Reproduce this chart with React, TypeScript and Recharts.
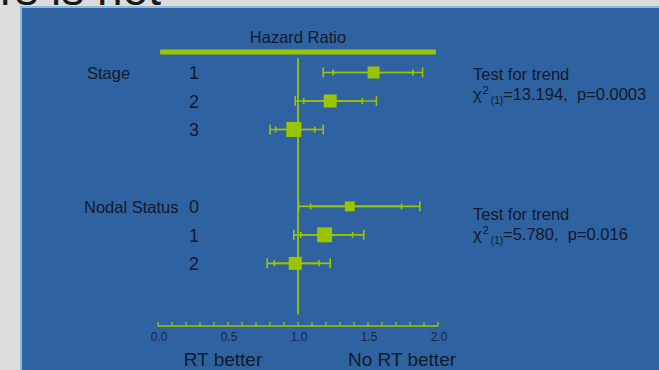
import React from "react";
import { ScatterChart, Scatter, XAxis, YAxis, ErrorBar, ReferenceLine } from "recharts";

// ---- data ----
const groupNames = ["Stage", "Nodal Status"];
const levelLabels = ["1", "2", "3", "0", "1", "2"];
const groupIndex = [0, 0, 0, 1, 1, 1];
const hazardRatio = [1.54, 1.23, 0.97, 1.37, 1.19, 0.98];
const innerLow = [1.25, 1.04, 0.84, 1.09, 1.02, 0.83];
const innerHigh = [1.82, 1.46, 1.12, 1.74, 1.39, 1.15];
const outerLow = [1.18, 0.98, 0.8, 1.005, 0.97, 0.78];
const outerHigh = [1.89, 1.56, 1.18, 1.87, 1.47, 1.23];
const boxWeights = [12, 13, 15, 10, 15, 13];
const xTicks = [0, 0.1, 0.2, 0.3, 0.4, 0.5, 0.6, 0.7, 0.8, 0.9, 1, 1.1, 1.2, 1.3, 1.4, 1.5, 1.6, 1.7, 1.8, 1.9, 2];
const xTickLabels = ["0.0", "0.5", "1.0", "1.5", "2.0"];
const xTickLabelValues = [0, 0.5, 1, 1.5, 2];
const trendTests = [
  { title: "Test for trend", stat: "=13.194,  p=0.0003" },
  { title: "Test for trend", stat: "=5.780,  p=0.016" },
];

// ---- layout ----
const rowPos = [1, 2, 3, 5.7, 6.7, 7.7];
const groupLabelX = [87, 84];
const GREEN = "#9bc400";
const TEXT = "#141a2c";
const FONT = "'Liberation Sans', Arial, sans-serif";

const rows = hazardRatio.map((v, i) => ({
  x: v,
  y: rowPos[i],
  inner: [v - innerLow[i], innerHigh[i] - v],
  outer: [v - outerLow[i], outerHigh[i] - v],
  w: boxWeights[i],
}));

const Box = (props: any) => {
  const { cx, cy, payload } = props;
  if (cx == null || cy == null) return null;
  const s = payload.w;
  return <rect x={cx - s / 2} y={cy - s / 2} width={s} height={s} fill={GREEN} />;
};

const XTick = (props: any) => {
  const { x, y, payload } = props;
  const li = xTickLabelValues.findIndex((v) => Math.abs(v - payload.value) < 1e-6);
  return (
    <g>
      <line x1={x} x2={x} y1={y} y2={y - 4} stroke={GREEN} strokeWidth={1.3} />
      {li >= 0 && (
        <text x={x + 1} y={y + 15} textAnchor="middle" fontSize={12} fill="#1c2740" fontFamily={FONT}>
          {xTickLabels[li]}
        </text>
      )}
    </g>
  );
};

const YTick = (props: any) => {
  const { y, payload } = props;
  const i = rowPos.findIndex((v) => Math.abs(v - payload.value) < 1e-6);
  if (i < 0) return null;
  const g = groupIndex[i];
  const first = groupIndex.indexOf(g) === i;
  return (
    <g fontFamily={FONT} fill={TEXT}>
      {first && (
        <text x={groupLabelX[g]} y={y + 7} fontSize={16.5} textAnchor="start">
          {groupNames[g]}
        </text>
      )}
      <text x={194} y={y + 7} fontSize={18} textAnchor="middle">
        {levelLabels[i]}
      </text>
    </g>
  );
};

const trendY = [80, 220];

export default function App() {
  return (
    <div style={{ position: "fixed", left: 0, top: 0, width: 659, height: 370, background: "#dcdcdc", overflow: "hidden" }}>
      <div
        style={{
          position: "absolute",
          left: 20,
          top: 6,
          width: 700,
          height: 400,
          background: "#2e62a0",
          borderLeft: "2px solid #8fb9dc",
          borderTop: "2px solid #8fb9dc",
        }}
      />
      <div style={{ position: "absolute", left: 0, top: 0 }}>
        <ScatterChart width={659} height={370} margin={{ top: 44, right: 221, bottom: 0, left: 0 }}>
          <XAxis
            type="number"
            dataKey="x"
            domain={[0, 2]}
            ticks={xTicks}
            interval={0}
            height={44}
            tickSize={0}
            tickMargin={0}
            tickLine={false}
            axisLine={{ stroke: GREEN, strokeWidth: 1.5 }}
            tick={<XTick />}
            allowDataOverflow
          />
          <YAxis
            type="number"
            dataKey="y"
            domain={[0, 9.9]}
            reversed
            ticks={rowPos}
            interval={0}
            width={158}
            axisLine={false}
            tickLine={false}
            tick={<YTick />}
            allowDataOverflow
          />
          <ReferenceLine
            segment={[
              { x: 1, y: 0.5 },
              { x: 1, y: 9.5 },
            ]}
            stroke={GREEN}
            strokeWidth={1.8}
          />
          <ReferenceLine
            segment={[
              { x: 0.015, y: 0.28 },
              { x: 1.985, y: 0.28 },
            ]}
            stroke={GREEN}
            strokeWidth={5}
          />
          <Scatter data={rows} shape={<Box />} isAnimationActive={false}>
            <ErrorBar dataKey="outer" direction="x" width={5} stroke={GREEN} strokeWidth={1.6} />
            <ErrorBar dataKey="inner" direction="x" width={3} stroke={GREEN} strokeWidth={1.6} />
          </Scatter>
        </ScatterChart>
      </div>
      <svg width={659} height={370} style={{ position: "absolute", left: 0, top: 0, pointerEvents: "none" }} fontFamily={FONT}>
        <text x={161} y={5} fontSize={46} textAnchor="end" fill="#1a1a1a">rs is not</text>
        <text x={298} y={43} fontSize={16.5} textAnchor="middle" fill={TEXT}>Hazard Ratio</text>
        {trendTests.map((t, i) => (
          <g key={i} fill={TEXT}>
            <text x={473} y={trendY[i]} fontSize={16.5}>{t.title}</text>
            <text x={473} y={trendY[i] + 20} fontSize={16.5} style={{ whiteSpace: "pre" }}>
              χ
              <tspan dx={1} dy={-6} fontSize={11}>2</tspan>
              <tspan dx={2} dy={10} fontSize={10}>(1)</tspan>
              <tspan dy={-4} fontSize={16.5}>{t.stat}</tspan>
            </text>
          </g>
        ))}
        <text x={223} y={366} fontSize={19} textAnchor="middle" fill={TEXT}>RT better</text>
        <text x={402} y={366} fontSize={19} textAnchor="middle" fill={TEXT}>No RT better</text>
      </svg>
    </div>
  );
}
